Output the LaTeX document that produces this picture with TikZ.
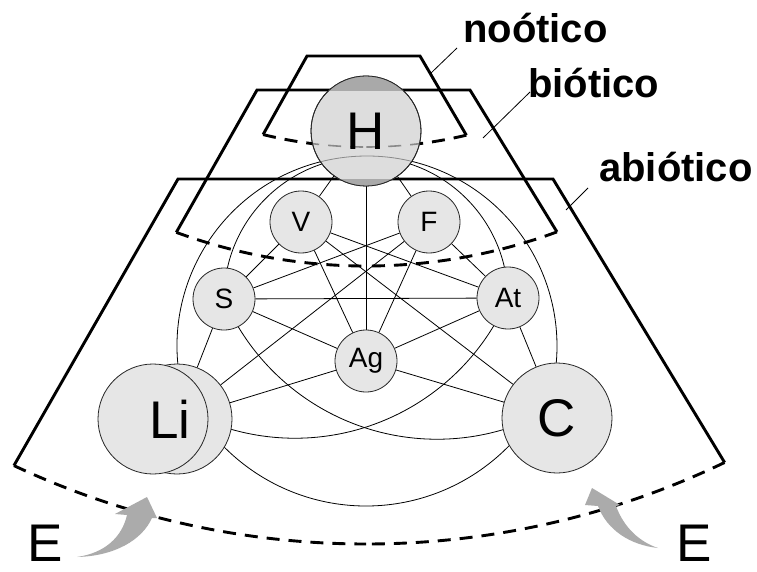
\documentclass[tikz,border=0pt]{standalone}
\usepackage{fontspec}
\setmainfont{Liberation Sans}
\usetikzlibrary{calc}
\pgfdeclarelayer{bg}
\pgfdeclarelayer{fg}
\pgfsetlayers{bg,main,fg}
\definecolor{nodegray}{HTML}{E6E6E6}
\definecolor{hgray}{HTML}{DDDDDD}
\definecolor{capgray}{HTML}{A9A9A9}
\definecolor{arrowgray}{HTML}{ABABAB}
\definecolor{ingray}{HTML}{8A8A8A}
\begin{document}
\begin{tikzpicture}[x=1pt,y=-1pt,
  zoneline/.style={line width=2.9pt, line join=miter},
  zonedash/.style={line width=2.9pt, dash pattern=on 13pt off 9pt},
  edge/.style={line width=0.8pt},
  leader/.style={line width=0.8pt},
  nodeborder/.style={draw=black!85, line width=0.8pt},
  smallnode/.style={circle, nodeborder, fill=nodegray, minimum size=62pt, inner sep=0pt, font=\fontsize{28}{28}\selectfont},
  bignode/.style={circle, nodeborder, fill=nodegray, minimum size=110pt, inner sep=0pt, font=\fontsize{53}{53}\selectfont},
  bigtext/.style={inner sep=0pt, font=\fontsize{53}{53}\selectfont},
  zonelabel/.style={anchor=base west, inner sep=0pt, font=\bfseries\fontsize{40}{40}\selectfont},
]
\useasboundingbox (0,0) rectangle (757,572);
\coordinate (Z) at (366,-286);

% nodes
\node[bignode] (Li) at (177,419) {};
\node[bignode] (Lifront) at (153,419) {};
\node[bigtext] (Litext) at (170,419) {Li};
\node[bignode] (C) at (557,418) {C};
\node[bignode, fill=hgray] (H) at (366,131) {};
\node[smallnode] (V) at (301,222) {V};
\node[smallnode] (F) at (429,222) {F};
\node[smallnode] (S) at (224,299) {S};
\node[smallnode] (At) at (508,298) {At};
\node[smallnode] (Ag) at (366,361) {Ag};

% zone labels
\node[zonelabel] (nootico) at (463,43) {noótico};
\node[zonelabel] (biotico) at (528,98) {biótico};
\node[zonelabel] (abiotico) at (599,182) {abiótico};

\coordinate (nooticoA) at (457,48);
\coordinate (nooticoB) at (430,74);
\coordinate (bioticoA) at (530,92);
\coordinate (bioticoB) at (483,138);
\coordinate (abioticoA) at (588,188);
\coordinate (abioticoB) at (566,210);

\begin{pgfonlayer}{bg}
\fill[white] (0,0) rectangle (757,572);
% noótico
\draw[zoneline] ($(Z)+(103.75:433)$) -- (307,56) -- (420,56) -- ($(Z)+(76.6:433)$);
\draw[zonedash] ($(Z)+(103.75:433)$) arc[start angle=103.75, end angle=90, radius=433];
\draw[zonedash] ($(Z)+(76.6:433)$) arc[start angle=76.6, end angle=90, radius=433];
% biótico
\draw[zoneline] ($(Z)+(110.1:552)$) -- (257,90) -- (470,90) -- ($(Z)+(69.76:552)$);
\draw[zonedash] ($(Z)+(110.1:552)$) arc[start angle=110.1, end angle=90, radius=552];
\draw[zonedash] ($(Z)+(69.76:552)$) arc[start angle=69.76, end angle=90, radius=552];
% abiótico
\draw[zoneline] ($(Z)+(115.1:830)$) -- (178,179) -- (553,179) -- ($(Z)+(64.4:830)$);
\draw[zonedash] ($(Z)+(115.1:830)$) arc[start angle=115.1, end angle=90, radius=830];
\draw[zonedash] ($(Z)+(64.4:830)$) arc[start angle=64.4, end angle=90, radius=830];
% leaders
\draw[leader] (nooticoA) -- (nooticoB);
\draw[leader] (bioticoA) -- (bioticoB);
\draw[leader] (abioticoA) -- (abioticoB);
% straight edges
\draw[edge] (H) -- (V);
\draw[edge] (H) -- (F);
\draw[edge] (H) -- (Ag);
\draw[edge] (V) -- (S);
\draw[edge] (V) -- (At);
\draw[edge] (V) -- (Ag);
\draw[edge] (V) -- (C);
\draw[edge] (F) -- (S);
\draw[edge] (F) -- (At);
\draw[edge] (F) -- (Ag);
\draw[edge] (F) -- (Li);
\draw[edge] (S) -- (At);
\draw[edge] (S) -- (Ag);
\draw[edge] (S) -- (Li);
\draw[edge] (At) -- (Ag);
\draw[edge] (At) -- (C);
\draw[edge] (Ag) -- (Li);
\draw[edge] (Ag) -- (C);
% curved edges
\draw[edge] ($(367,346)+(170:190)$) arc[start angle=170, end angle=370, radius=190];
\draw[edge] (S.center) arc[start angle=180, end angle=360, radius=142];
\draw[edge] (S.center) arc[start angle=156.7, end angle=60, radius=232];
\draw[edge] (At.center) arc[start angle=23.3, end angle=120, radius=232];
\draw[edge] ($(366,306)+(140:200)$) arc[start angle=140, end angle=40, radius=200];
\end{pgfonlayer}

\begin{pgfonlayer}{fg}
\begin{scope}
\clip (H.center) circle[radius=55];
\fill[capgray] (300,70) rectangle (440,91);
\fill[capgray] (300,179) rectangle (440,195);
\draw[line width=0.8pt, ingray] ($(367,346)+(235:190)$) arc[start angle=235, end angle=305, radius=190];
\draw[zonedash, line width=1.6pt, ingray] ($(Z)+(103.75:433)$) arc[start angle=103.75, end angle=90, radius=433];
\draw[zonedash, line width=1.6pt, ingray] ($(Z)+(76.6:433)$) arc[start angle=76.6, end angle=90, radius=433];
\end{scope}
\draw[nodeborder] (H.center) circle[radius=55];
\node[bigtext] (Htext) at (H.center) {H};
% gray arrows
\fill[arrowgray] (77,557) .. controls (105,553) and (122,537) .. (127,515) -- (115,514) -- (147,497) -- (157,518) -- (152,518) .. controls (142,540) and (115,556) .. (77,557) -- cycle;
\fill[arrowgray] (658,548) .. controls (630,545) and (607,530) .. (598,506) -- (585,505) -- (592,488) -- (620,505) -- (616,506) .. controls (624,528) and (640,542) .. (658,548) -- cycle;
\node[bigtext] (Eleft) at (45,543) {E};
\node[bigtext] (Eright) at (694,543) {E};
\end{pgfonlayer}
\end{tikzpicture}
\end{document}
